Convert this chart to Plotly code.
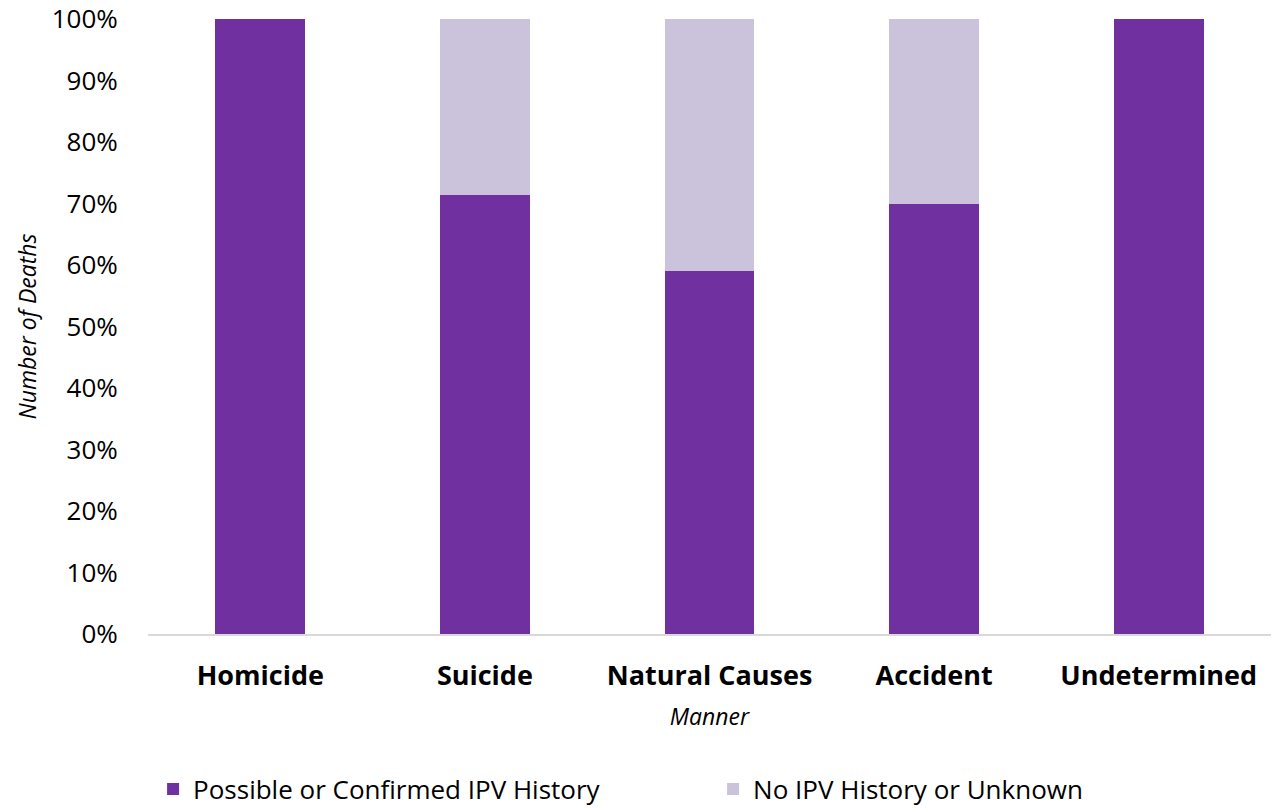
import plotly.graph_objects as go

categories = ["Homicide", "Suicide", "Natural Causes", "Accident", "Undetermined"]
ipv_history = [1.0, 0.714, 0.591, 0.700, 1.0]
no_ipv = [0.0, 0.286, 0.409, 0.300, 0.0]
tick_vals = [0, 0.1, 0.2, 0.3, 0.4, 0.5, 0.6, 0.7, 0.8, 0.9, 1.0]
tick_text = ["0%", "10%", "20%", "30%", "40%", "50%", "60%", "70%", "80%", "90%", "100%"]

FONT = "Open Sans"

fig = go.Figure()
fig.add_trace(go.Bar(x=categories, y=ipv_history, name="Possible or Confirmed IPV History",
                     marker=dict(color="#7030A0", line=dict(width=0))))
fig.add_trace(go.Bar(x=categories, y=no_ipv, name="No IPV History or Unknown",
                     marker=dict(color="#CBC3DB", line=dict(width=0))))

fig.update_layout(
    barmode="stack",
    bargap=0.6,
    width=1281, height=808,
    margin=dict(l=148, r=10, t=19, b=174),
    plot_bgcolor="white", paper_bgcolor="white",
    font=dict(family=FONT, color="black"),
    showlegend=True,
    legend=dict(orientation="h", xref="container", yref="container",
                x=0.1195, xanchor="left", y=0.0235, yanchor="middle",
                font=dict(size=26, family=FONT), traceorder="normal", itemwidth=30,
                entrywidth=515, entrywidthmode="pixels"),
    xaxis=dict(
        automargin=False,
        showgrid=False, showline=True, linecolor="#D9D9D9", linewidth=2,
        ticks="outside", ticklen=17, tickcolor="white",
        tickfont=dict(size=27, family=FONT, weight="bold"),
        title=dict(text="Manner", font=dict(size=23, family=FONT, style="italic"), standoff=16),
    ),
    yaxis=dict(
        automargin=False,
        range=[0, 1], showgrid=False, zeroline=False, showline=False,
        tickvals=tick_vals, ticktext=tick_text,
        ticks="outside", ticklen=24, tickcolor="white",
        tickfont=dict(size=26, family=FONT),
        title=dict(text="Number of Deaths", font=dict(size=23, family=FONT, style="italic"), standoff=8),
    ),
)

fig.write_html("out.html")
